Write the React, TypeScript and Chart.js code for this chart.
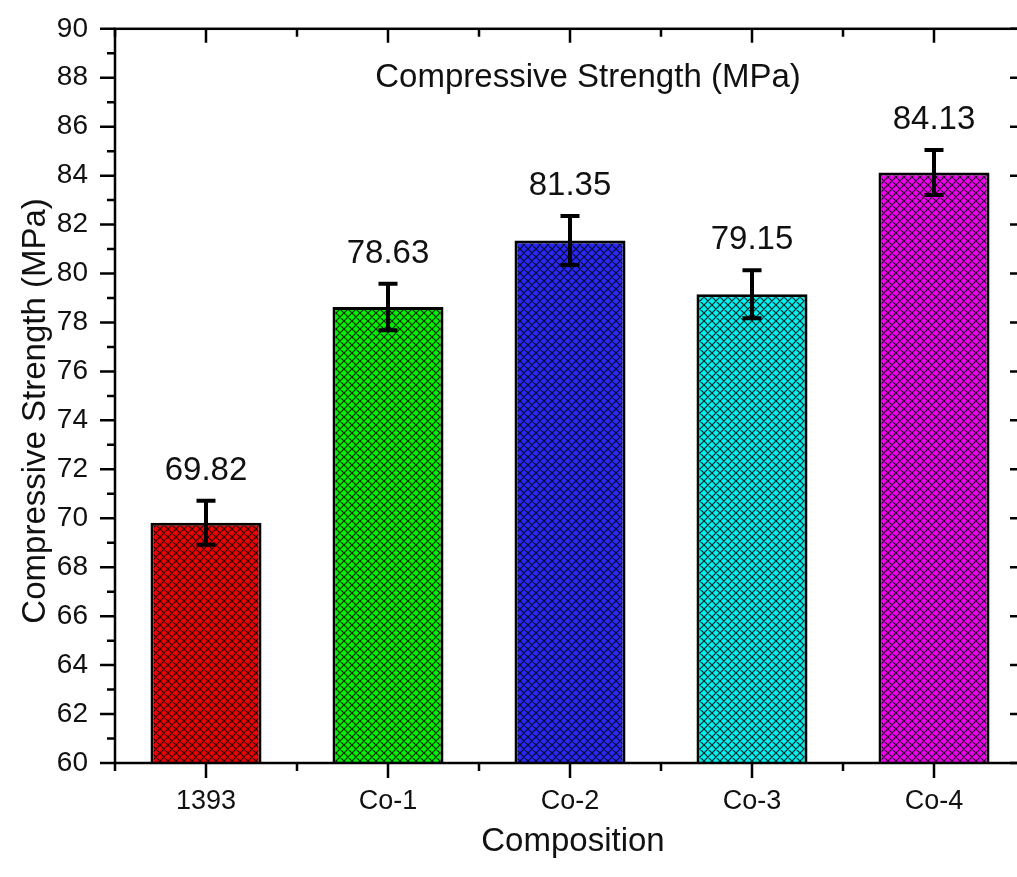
import { useEffect, useRef } from 'react';
import { Chart, registerables } from 'chart.js';

Chart.register(...registerables);

const categories = ['1393', 'Co-1', 'Co-2', 'Co-3', 'Co-4'];
const strength = [69.82, 78.63, 81.35, 79.15, 84.13];
const errors = [0.9, 0.95, 1.0, 0.98, 0.92];
const barColors = ['#f00000', '#00f000', '#2828f8', '#00f0f0', '#f000f0'];
const yMin = 60;
const yMax = 90;
const yStep = 2;
const chartTitle = 'Compressive Strength (MPa)';
const yTitle = 'Compressive Strength (MPa)';
const xTitle = 'Composition';

const FONT = '"Liberation Sans", Arial, sans-serif';

function hatch(color: string) {
  const s = 8;
  const c = document.createElement('canvas');
  c.width = s;
  c.height = s;
  const g = c.getContext('2d')!;
  g.fillStyle = color;
  g.fillRect(0, 0, s, s);
  g.strokeStyle = 'rgba(0,0,0,0.85)';
  g.lineWidth = 1.2;
  g.beginPath();
  for (const o of [-s, 0, s]) {
    g.moveTo(o, 0);
    g.lineTo(o + s, s);
    g.moveTo(o + s, 0);
    g.lineTo(o, s);
  }
  g.stroke();
  return g.createPattern(c, 'repeat') as CanvasPattern;
}

const decor = {
  id: 'decor',
  afterDatasetsDraw(chart: any) {
    const ctx = chart.ctx as CanvasRenderingContext2D;
    const x = chart.scales.x;
    const y = chart.scales.y;
    const a = chart.chartArea;
    ctx.save();
    ctx.strokeStyle = '#000';
    ctx.lineCap = 'butt';
    strength.forEach((v, i) => {
      const cx = x.getPixelForValue(i);
      const t = y.getPixelForValue(v + errors[i]);
      const b = y.getPixelForValue(v - errors[i]);
      ctx.lineWidth = 4;
      ctx.beginPath();
      ctx.moveTo(cx, t);
      ctx.lineTo(cx, b);
      ctx.moveTo(cx - 9.5, t);
      ctx.lineTo(cx + 9.5, t);
      ctx.moveTo(cx - 9.5, b);
      ctx.lineTo(cx + 9.5, b);
      ctx.stroke();
      ctx.fillStyle = '#111';
      ctx.font = `33px ${FONT}`;
      ctx.textAlign = 'center';
      ctx.textBaseline = 'alphabetic';
      ctx.fillText(v.toFixed(2), cx, t - 21);
    });
    ctx.lineWidth = 2.5;
    ctx.strokeRect(a.left, a.top, a.right - a.left, a.bottom - a.top);
    ctx.beginPath();
    for (let v = yMin; v <= yMax; v += 1) {
      const major = (v - yMin) % yStep === 0;
      const len = major ? 15 : 8;
      const py = y.getPixelForValue(v);
      ctx.moveTo(a.left - len, py);
      ctx.lineTo(a.left, py);
      ctx.moveTo(a.right - len, py);
      ctx.lineTo(a.right, py);
    }
    for (let i = 0; i < categories.length; i++) {
      const px = x.getPixelForValue(i);
      ctx.moveTo(px, a.bottom);
      ctx.lineTo(px, a.bottom + 15);
      ctx.moveTo(px, a.top);
      ctx.lineTo(px, a.top + 14);
    }
    for (let i = 0; i <= categories.length; i++) {
      const px = x.getPixelForValue(i - 0.5);
      ctx.moveTo(px, a.bottom);
      ctx.lineTo(px, a.bottom + 8);
      ctx.moveTo(px, a.top);
      ctx.lineTo(px, a.top + 8);
    }
    ctx.stroke();
    ctx.fillStyle = '#111';
    ctx.font = `33px ${FONT}`;
    ctx.textAlign = 'center';
    ctx.textBaseline = 'alphabetic';
    ctx.fillText(chartTitle, (a.left + a.right) / 2 + 18, a.top + 58);
    ctx.fillText(xTitle, (a.left + a.right) / 2 + 3, a.bottom + 88);
    ctx.save();
    ctx.translate(45, (a.top + a.bottom) / 2 + 15);
    ctx.rotate(-Math.PI / 2);
    ctx.fillText(yTitle, 0, 0);
    ctx.restore();
    ctx.restore();
  },
};

export default function App() {
  const ref = useRef<HTMLCanvasElement>(null);
  useEffect(() => {
    const canvas = ref.current!;
    const chart = new Chart(canvas, {
      type: 'bar',
      data: {
        labels: categories,
        datasets: [
          {
            data: strength,
            backgroundColor: barColors.map(hatch),
            borderColor: '#000',
            borderWidth: 3,
            borderSkipped: false,
            categoryPercentage: 1,
            barPercentage: 0.61,
          },
        ],
      },
      options: {
        responsive: false,
        animation: false,
        devicePixelRatio: 1,
        layout: { padding: { top: 12, right: 15, left: 0, bottom: 0 } },
        plugins: { legend: { display: false }, tooltip: { enabled: false }, title: { display: false } },
        scales: {
          x: {
            grid: { display: false, drawTicks: false },
            border: { display: false },
            ticks: { color: '#111', font: { family: FONT, size: 27 }, padding: 22, maxRotation: 0 },
            afterFit: (s: any) => {
              s.height = 114;
            },
          },
          y: {
            min: yMin,
            max: yMax,
            grid: { display: false, drawTicks: false },
            border: { display: false },
            ticks: { stepSize: yStep, color: '#111', font: { family: FONT, size: 28 }, padding: 27 },
            afterFit: (s: any) => {
              s.width = 115;
            },
          },
        },
      },
      plugins: [decor],
    });
    return () => chart.destroy();
  }, []);
  return (
    <div style={{ position: 'fixed', left: 0, top: 0, width: 1017, height: 877, overflow: 'hidden', background: '#fff' }}>
      <canvas ref={ref} width={1040} height={892} style={{ display: 'block', position: 'absolute', left: 0, top: -15 }} />
    </div>
  );
}
